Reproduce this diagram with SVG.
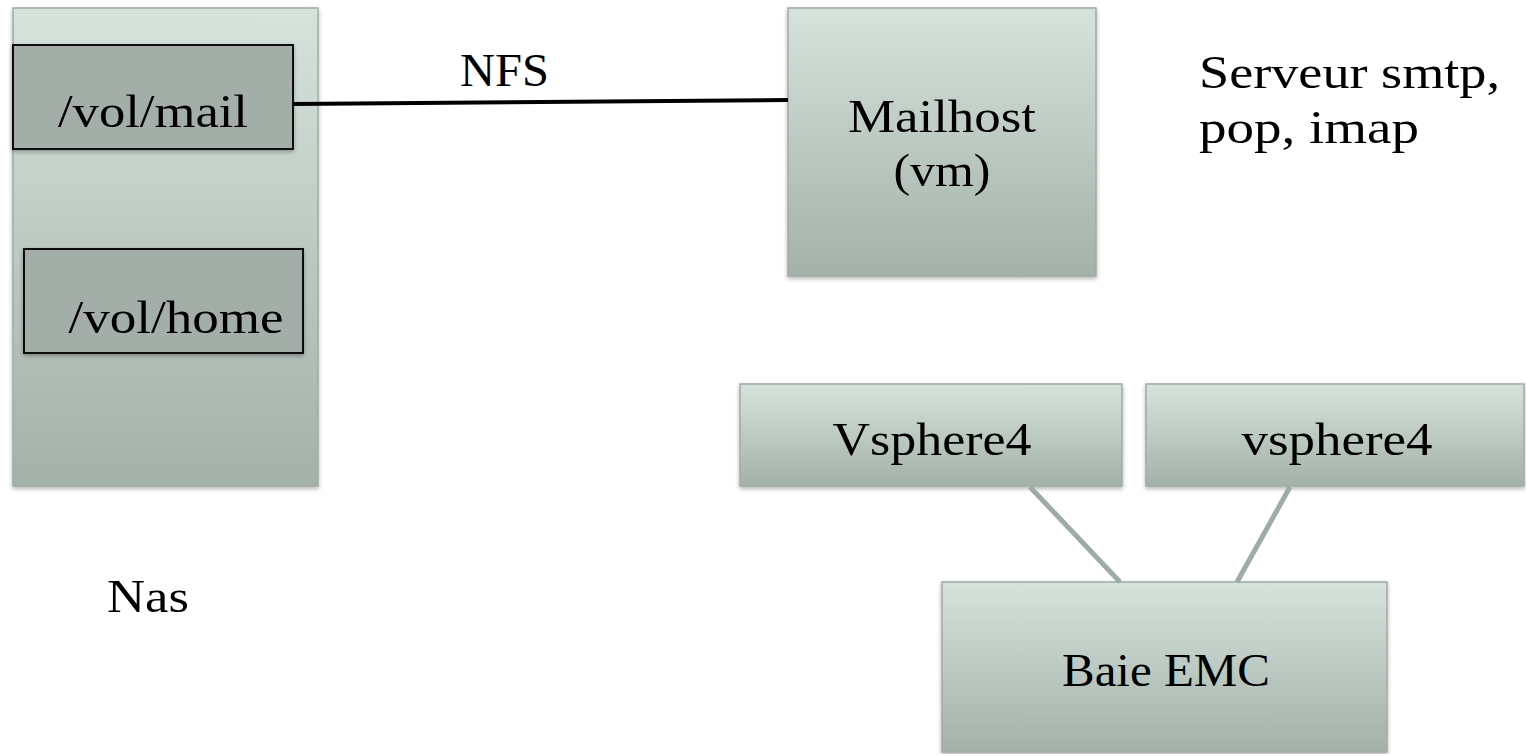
<svg xmlns="http://www.w3.org/2000/svg" width="1526" height="754" viewBox="0 0 1526 754">
<style>
.box{fill:url(#g);stroke:#9eaca4;stroke-width:1.5;filter:url(#sh)}
.vol{fill:#a4aea8;stroke:#111;stroke-width:2;filter:url(#sh)}
text{font-family:"Liberation Serif","DejaVu Serif",serif;font-size:47px;fill:#000}
.c{text-anchor:middle}
.gl{stroke:#9eaca4;stroke-width:5;fill:none}
</style>
<defs>
<linearGradient id="g" x1="0" y1="0" x2="0" y2="1">
<stop offset="0" stop-color="#d6e3dc"/>
<stop offset="1" stop-color="#a3b1a9"/>
</linearGradient>
<filter id="sh" x="-10%" y="-10%" width="120%" height="120%">
<feDropShadow dx="0" dy="2" stdDeviation="2" flood-color="#000" flood-opacity="0.3"/>
</filter>
</defs>
<g id="nas">
<rect class="box" x="13" y="8" width="305" height="478"/>
</g>
<g id="volmail">
<rect class="vol" x="13" y="45" width="280" height="104"/>
<text class="c" x="153" y="127" textLength="190" lengthAdjust="spacingAndGlyphs">/vol/mail</text>
</g>
<g id="volhome">
<rect class="vol" x="24" y="249" width="279" height="104"/>
<text class="c" x="176" y="333" textLength="215" lengthAdjust="spacingAndGlyphs">/vol/home</text>
</g>
<g id="nfs-label"><text x="460" y="86" textLength="89" lengthAdjust="spacingAndGlyphs">NFS</text></g>
<g id="mailhost">
<rect class="box" x="788" y="8" width="308" height="268"/>
<text class="c" x="942" y="132" textLength="188" lengthAdjust="spacingAndGlyphs">Mailhost</text>
<text class="c" x="942" y="186" textLength="97" lengthAdjust="spacingAndGlyphs">(vm)</text>
</g>
<g id="serveur-label">
<text x="1199" y="88" textLength="301" lengthAdjust="spacingAndGlyphs">Serveur smtp,</text>
<text x="1199" y="143" textLength="220" lengthAdjust="spacingAndGlyphs">pop, imap</text>
</g>
<g id="vsphere4a">
<rect class="box" x="740" y="384" width="382" height="102"/>
<text class="c" x="932" y="455" textLength="199" lengthAdjust="spacingAndGlyphs">Vsphere4</text>
</g>
<g id="vsphere4b">
<rect class="box" x="1146" y="384" width="378" height="102"/>
<text class="c" x="1337" y="455" textLength="191" lengthAdjust="spacingAndGlyphs">vsphere4</text>
</g>
<g id="baie">
<rect class="box" x="942" y="582" width="445" height="170"/>
<text class="c" x="1166" y="686" textLength="208" lengthAdjust="spacingAndGlyphs">Baie EMC</text>
</g>
<g id="nas-label"><text x="107" y="612" textLength="82" lengthAdjust="spacingAndGlyphs">Nas</text></g>
<g id="connectors">
<line x1="293" y1="104" x2="788" y2="100" stroke="#000" stroke-width="4"/>
<line class="gl" x1="1030" y1="487" x2="1120" y2="582"/>
<line class="gl" x1="1290" y1="487" x2="1237" y2="582"/>
</g>
</svg>
